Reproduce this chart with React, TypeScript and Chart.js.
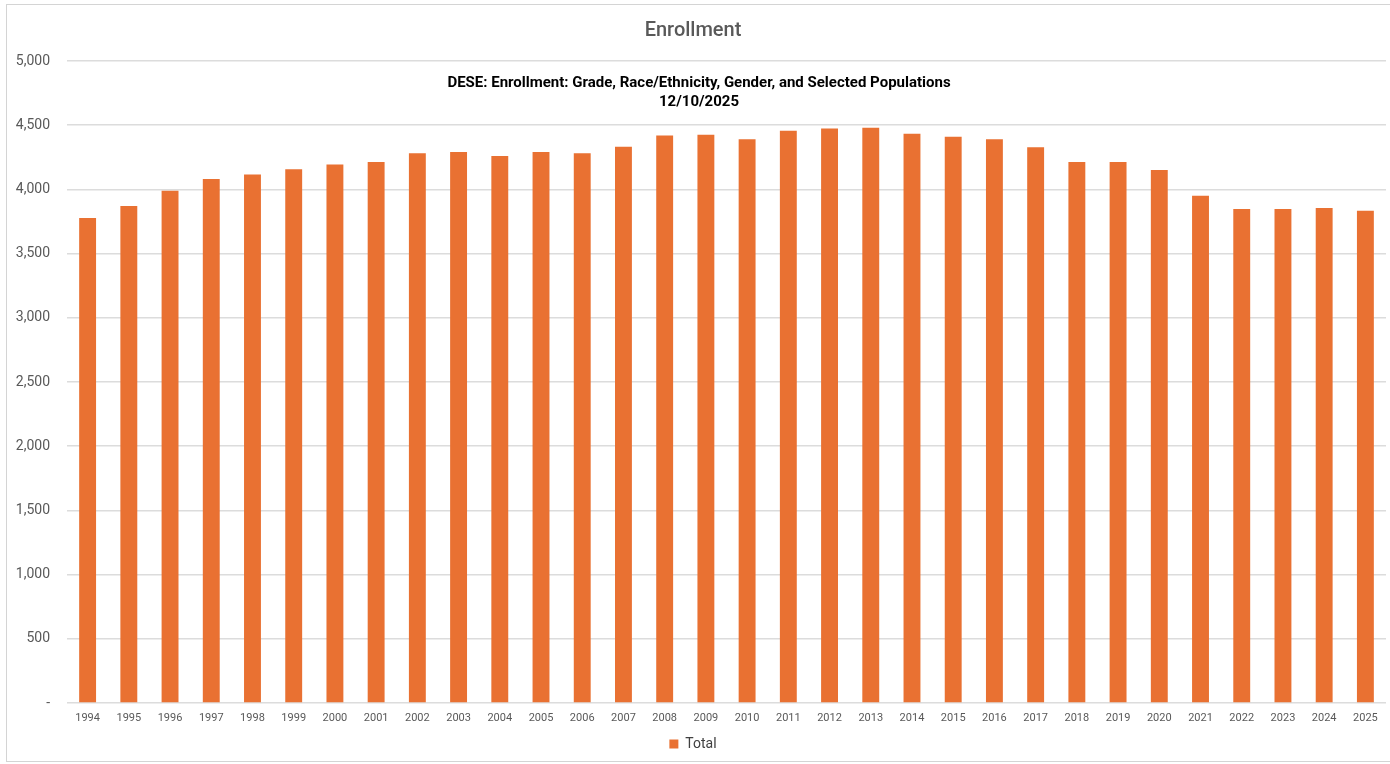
import React, { useEffect, useRef } from "react";
import { Chart, registerables } from "chart.js";

Chart.register(...registerables);

// School years on the category axis
const years: string[] = [
  "1994", "1995", "1996", "1997", "1998", "1999", "2000", "2001",
  "2002", "2003", "2004", "2005", "2006", "2007", "2008", "2009",
  "2010", "2011", "2012", "2013", "2014", "2015", "2016", "2017",
  "2018", "2019", "2020", "2021", "2022", "2023", "2024", "2025",
];

// Total enrollment per year
const totals: number[] = [
  3777, 3871, 3990, 4081, 4117, 4156, 4193, 4213,
  4281, 4291, 4260, 4291, 4281, 4333, 4419, 4426,
  4390, 4457, 4475, 4481, 4434, 4411, 4390, 4328,
  4213, 4213, 4151, 3951, 3847, 3847, 3855, 3834,
];

const chartTitle = "Enrollment";
const sourceLines: string[] = [
  "DESE: Enrollment: Grade, Race/Ethnicity, Gender, and Selected Populations",
  "12/10/2025",
];
const seriesName = "Total";
const yMax = 5000;
const yStep = 500;

const BAR_COLOR = "#E97132";
const TEXT_GRAY = "#595959";

// Source note drawn inside the plot area, plus a thin frame around the chart
const sourceNotePlugin = {
  id: "sourceNote",
  afterDatasetsDraw(chart: Chart) {
    const { ctx, chartArea } = chart;
    ctx.save();
    ctx.fillStyle = "#000000";
    ctx.font = "bold 15px Roboto, 'Noto Sans', sans-serif";
    ctx.textAlign = "center";
    ctx.textBaseline = "middle";
    const cx = chart.width / 2 + 4;
    sourceLines.forEach((line, i) => {
      ctx.fillText(line, cx, chartArea.top + 22 + i * 19.5);
    });
    ctx.restore();
  },
  afterDraw(chart: Chart) {
    const { ctx } = chart;
    ctx.save();
    ctx.strokeStyle = "#d4d4d4";
    ctx.lineWidth = 1;
    ctx.strokeRect(6.5, 4.5, chart.width + 10, 757);
    ctx.restore();
  },
};

export default function App() {
  const canvasRef = useRef<HTMLCanvasElement | null>(null);

  useEffect(() => {
    document.body.style.margin = "0";
    const canvas = canvasRef.current;
    if (!canvas) return;

    const chart = new Chart(canvas, {
      type: "bar",
      data: {
        labels: years,
        datasets: [
          {
            label: seriesName,
            data: totals,
            backgroundColor: BAR_COLOR,
            borderWidth: 0,
            barPercentage: 0.41,
            categoryPercentage: 1.0,
          },
        ],
      },
      options: {
        responsive: false,
        animation: false,
        layout: { padding: { left: 0, right: 4, top: 0, bottom: 3 } },
        plugins: {
          title: {
            display: true,
            text: chartTitle,
            color: TEXT_GRAY,
            font: { family: "Roboto, 'Noto Sans', sans-serif", size: 20, weight: 500 },
            padding: { top: 19, bottom: 18 },
          },
          legend: {
            display: true,
            position: "bottom",
            labels: {
              color: "#404040",
              font: { family: "Roboto, 'Noto Sans', sans-serif", size: 14 },
              boxWidth: 9,
              boxHeight: 9,
              padding: 8,
            },
          },
          tooltip: { enabled: false },
        },
        scales: {
          x: {
            grid: { display: false, drawTicks: false },
            border: { display: false },
            ticks: {
              color: TEXT_GRAY,
              font: { family: "Roboto, 'Noto Sans', sans-serif", size: 11 },
              padding: 9,
              maxRotation: 0,
              autoSkip: false,
            },
            afterFit(scale: any) {
              scale.height = 26;
            },
          },
          y: {
            min: 0,
            max: yMax,
            grid: { color: "#dcdcdc", lineWidth: 1.5, drawTicks: false },
            border: { display: false },
            ticks: {
              stepSize: yStep,
              color: TEXT_GRAY,
              font: { family: "Roboto, 'Noto Sans', sans-serif", size: 14 },
              padding: 17,
              callback: (value: any) =>
                Number(value) === 0 ? "-" : Number(value).toLocaleString("en-US"),
            },
            afterFit(scale: any) {
              scale.width = 67;
            },
          },
        },
      },
      plugins: [sourceNotePlugin],
    });

    return () => chart.destroy();
  }, []);

  return (
    <div style={{ width: 1390, height: 764, background: "#ffffff" }}>
      <canvas ref={canvasRef} width={1390} height={764} />
    </div>
  );
}
